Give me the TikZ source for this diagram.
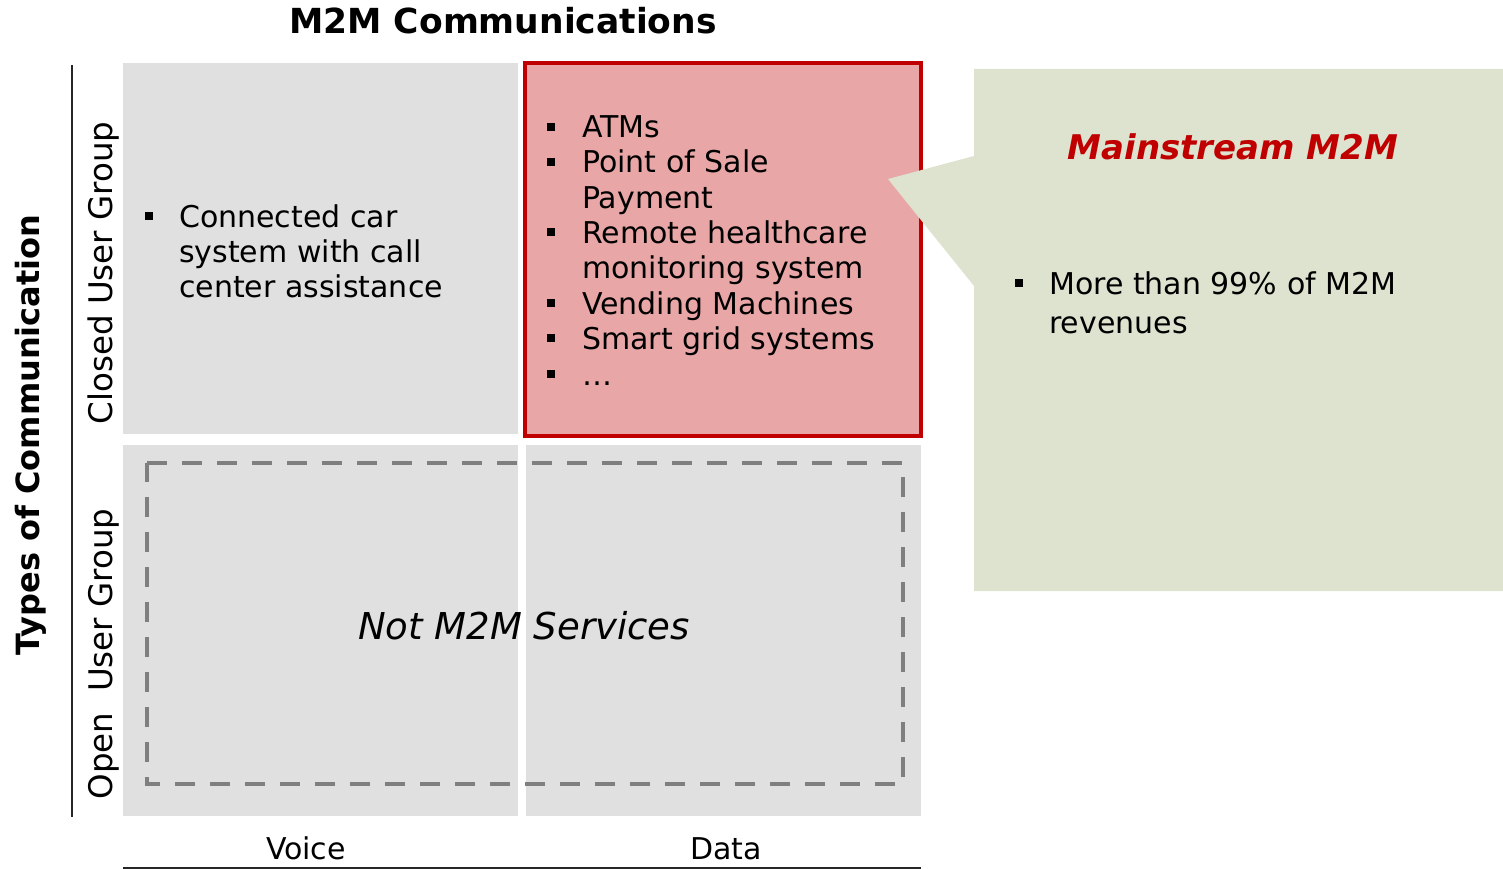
\documentclass[tikz,border=0pt]{standalone}
\usepackage{fontspec}
\setmainfont{DejaVu Sans}
\definecolor{cellgray}{HTML}{E0E0E0}
\definecolor{redfill}{HTML}{E8A6A6}
\definecolor{redline}{HTML}{C00000}
\definecolor{greenfill}{HTML}{DDE3CF}
\definecolor{dashgray}{HTML}{7F7F7F}
\tikzset{
  cell/.style={fill=cellgray, draw=none},
  txt/.style={anchor=base west, inner sep=0pt, font=\fontsize{30}{35}\selectfont},
  bul/.style={fill=black, draw=none, minimum size=8.5pt, inner sep=0pt},
  axis/.style={line width=2pt, draw=black!85},
  rotlab/.style={rotate=90, inner sep=0pt, font=\fontsize{32.5}{38}\selectfont},
}
\begin{document}
\begin{tikzpicture}[x=1pt,y=-1pt]
\useasboundingbox (0,0) rectangle (1503,869);
% title
\node[anchor=base, inner sep=0pt, font=\fontsize{34.5}{40}\selectfont\bfseries] (title) at (503,34) {M2M Communications};
% axes
\coordinate (vtop) at (72,65);
\coordinate (vbot) at (72,817);
\draw[axis] (vtop) -- (vbot);
\coordinate (hl) at (123,868);
\coordinate (hr) at (921,868);
\draw[axis] (hl) -- (hr);
\node[rotate=90, inner sep=0pt, font=\fontsize{32}{38}\selectfont\bfseries] (ylab) at (31,435) {Types of Communication};
\node[rotlab] (closed) at (104,273) {Closed User Group};
\node[rotlab] (open) at (104,654) {Open\ \ User Group};
\node[anchor=base, inner sep=0pt, font=\fontsize{30}{35}\selectfont] (voice) at (306,859) {Voice};
\node[anchor=base, inner sep=0pt, font=\fontsize{30}{35}\selectfont] (data) at (726,859) {Data};
% cells
\path[cell] (123,63) rectangle (518,434);
\path[cell] (123,445) rectangle (518,816);
\path[cell] (526,445) rectangle (921,816);
\draw[fill=redfill, draw=redline, line width=4pt] (525,63) rectangle (921,436);
% dashed box
\draw[dashgray, line width=4pt, dash pattern=on 20pt off 15pt] (147,463) -- (903,463) -- (903,784) -- (147,784) -- cycle;
\node[inner sep=0pt, font=\fontsize{37}{44}\selectfont\itshape] (notm2m) at (524,626) {Not M2M Services};
% callout
\fill[greenfill] (974,69) -- (1503,69) -- (1503,591) -- (974,591) -- (974,286) -- (888,179) -- (974,156) -- cycle;
\node[anchor=base, inner sep=0pt, font=\fontsize{34}{41}\selectfont\bfseries\itshape, text=redline] (main) at (1233,160) {Mainstream M2M};
\node[bul] (b9) at (1019,283) {};
\node[txt] (t9a) at (1049,294) {More than 99\% of M2M};
\node[txt] (t9b) at (1049,333) {revenues};
% top-left
\node[bul] (b1) at (149,216) {};
\node[txt] (t1a) at (179,227) {Connected car};
\node[txt] (t1b) at (179,262) {system with call};
\node[txt] (t1c) at (179,297) {center assistance};
% top-right
\node[bul] (b2) at (551,127) {};
\node[txt] (t2) at (582,138) {ATMs};
\node[bul] (b3) at (551,162) {};
\node[txt] (t3a) at (582,173) {Point of Sale};
\node[txt] (t3b) at (582,208) {Payment};
\node[bul] (b4) at (551,232) {};
\node[txt] (t4a) at (582,243) {Remote healthcare};
\node[txt] (t4b) at (582,278) {monitoring system};
\node[bul] (b5) at (551,303) {};
\node[txt] (t5) at (582,314) {Vending Machines};
\node[bul] (b6) at (551,338) {};
\node[txt] (t6) at (582,349) {Smart grid systems};
\node[bul] (b7) at (551,374) {};
\node[txt] (t7) at (582,385) {\dots};
\end{tikzpicture}
\end{document}
